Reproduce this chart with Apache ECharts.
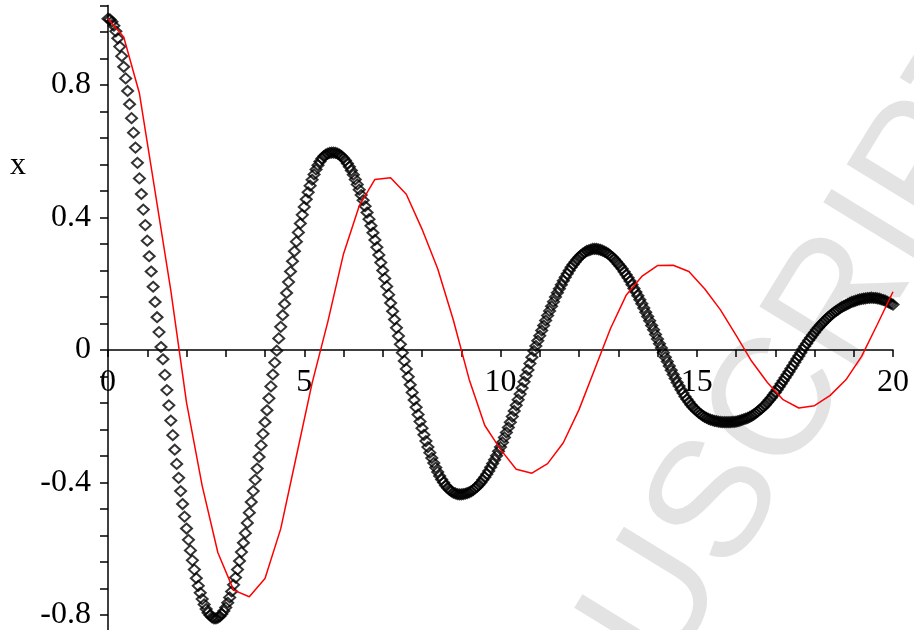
<!DOCTYPE html>
<html>
<head>
<meta charset="utf-8">
<script src="https://cdn.jsdelivr.net/npm/echarts@6/dist/echarts.min.js"></script>
<style>
  html, body { margin: 0; padding: 0; background: #ffffff; }
  #chart { width: 914px; height: 630px; }
</style>
</head>
<body>
<div id="chart"></div>
<script>
// Time grid of the sampled solution (diamonds): t = 0 .. 20, step 0.05
const diamondStart = 0;
const diamondStep = 0.05;
// x(t) sampled values, one row per unit of t (20 samples each), plus t = 20
const diamondValues = [
  1.000,0.998,0.991,0.979,0.962,0.941,0.916,0.887,0.855,0.820,0.782,0.742,0.700,0.656,0.611,0.565,0.518,0.471,0.424,0.377,
  0.330,0.283,0.237,0.191,0.145,0.099,0.054,0.009,-0.028,-0.075,-0.121,-0.167,-0.213,-0.257,-0.301,-0.344,-0.386,-0.426,-0.465,-0.503,
  -0.539,-0.573,-0.605,-0.635,-0.663,-0.689,-0.712,-0.733,-0.752,-0.768,-0.782,-0.793,-0.801,-0.807,-0.810,-0.810,-0.808,-0.804,-0.797,-0.788,
  -0.777,-0.763,-0.747,-0.729,-0.709,-0.687,-0.663,-0.637,-0.610,-0.582,-0.553,-0.522,-0.491,-0.459,-0.426,-0.392,-0.358,-0.323,-0.288,-0.253,
  -0.218,-0.182,-0.146,-0.110,-0.074,-0.038,-0.002,0.035,0.070,0.105,0.139,0.172,0.205,0.237,0.268,0.298,0.327,0.355,0.382,0.408,
  0.432,0.455,0.476,0.496,0.514,0.530,0.545,0.558,0.569,0.578,0.585,0.590,0.593,0.595,0.596,0.596,0.595,0.593,0.590,0.585,
  0.579,0.572,0.563,0.553,0.542,0.529,0.515,0.500,0.484,0.468,0.452,0.434,0.415,0.395,0.375,0.354,0.332,0.310,0.287,0.264,
  0.240,0.216,0.192,0.167,0.142,0.117,0.092,0.067,0.042,0.017,-0.008,-0.033,-0.057,-0.081,-0.105,-0.128,-0.151,-0.173,-0.195,-0.216,
  -0.236,-0.256,-0.275,-0.293,-0.310,-0.326,-0.341,-0.355,-0.368,-0.380,-0.391,-0.400,-0.409,-0.416,-0.422,-0.427,-0.431,-0.433,-0.435,-0.436,
  -0.436,-0.435,-0.434,-0.432,-0.430,-0.427,-0.423,-0.418,-0.413,-0.407,-0.400,-0.392,-0.384,-0.375,-0.365,-0.354,-0.343,-0.331,-0.319,-0.306,
  -0.293,-0.279,-0.264,-0.249,-0.234,-0.218,-0.201,-0.184,-0.167,-0.150,-0.133,-0.115,-0.096,-0.078,-0.060,-0.041,-0.022,-0.003,0.012,0.028,
  0.043,0.059,0.074,0.089,0.104,0.118,0.132,0.146,0.160,0.173,0.185,0.197,0.209,0.220,0.230,0.240,0.250,0.258,0.266,0.273,
  0.280,0.286,0.291,0.295,0.299,0.301,0.303,0.305,0.305,0.305,0.304,0.302,0.300,0.297,0.294,0.290,0.285,0.280,0.274,0.267,
  0.260,0.253,0.245,0.236,0.227,0.218,0.208,0.197,0.186,0.175,0.164,0.152,0.140,0.127,0.114,0.101,0.088,0.074,0.061,0.047,
  0.033,0.019,0.006,-0.008,-0.022,-0.035,-0.048,-0.061,-0.074,-0.086,-0.098,-0.109,-0.120,-0.130,-0.140,-0.149,-0.157,-0.165,-0.172,-0.178,
  -0.184,-0.189,-0.194,-0.198,-0.202,-0.205,-0.208,-0.210,-0.212,-0.214,-0.215,-0.216,-0.217,-0.218,-0.218,-0.218,-0.218,-0.218,-0.217,-0.217,
  -0.216,-0.215,-0.213,-0.211,-0.209,-0.207,-0.205,-0.202,-0.199,-0.195,-0.191,-0.186,-0.181,-0.176,-0.171,-0.165,-0.158,-0.151,-0.144,-0.136,
  -0.128,-0.120,-0.111,-0.102,-0.093,-0.084,-0.075,-0.066,-0.056,-0.047,-0.037,-0.027,-0.018,-0.008,0.002,0.011,0.020,0.029,0.037,0.045,
  0.053,0.061,0.068,0.075,0.081,0.087,0.093,0.099,0.104,0.109,0.114,0.118,0.122,0.126,0.130,0.133,0.136,0.139,0.142,0.145,
  0.147,0.149,0.151,0.153,0.154,0.155,0.156,0.157,0.157,0.158,0.157,0.157,0.156,0.155,0.153,0.151,0.149,0.146,0.143,0.140,
  0.137
];

// Second solution (red curve), vertices every 0.4 in t
const curveStart = 0;
const curveStep = 0.4;
const curveValues = [
  1.000, 0.945, 0.775, 0.478, 0.180, -0.158, -0.410, -0.612, -0.725, -0.745,
  -0.690, -0.540, -0.320, -0.100, 0.085, 0.290, 0.435, 0.515, 0.520, 0.470,
  0.365, 0.245, 0.090, -0.088, -0.228, -0.300, -0.360, -0.372, -0.343, -0.280,
  -0.180, -0.058, 0.064, 0.165, 0.222, 0.255, 0.256, 0.237, 0.185, 0.122,
  0.045, -0.034, -0.098, -0.150, -0.175, -0.168, -0.137, -0.090, -0.019, 0.077,
  0.176
];

// Axis ranges, ticks and labels
const xMin = 0, xMax = 20;
const yMin = -0.88, yMax = 1.04;
const xTickStep = 1;
const xLabelEvery = 5;
const yTickStep = 0.08;
const yLabelEvery = 0.4;
const yAxisName = 'x';
const watermark = 'ACCEPTED MANUSCRIPT';

function toPairs(start, step, values) {
  return values.map((v, i) => [+(start + i * step).toFixed(4), v]);
}

const W = 914, H = 630;
const grid = { left: 108, right: 21, top: 5.5, bottom: -11.5 };
const plotH = H - grid.top - grid.bottom;
// distance from the bottom edge of the plot up to the line y = 0
const zeroOffset = plotH * (0 - yMin) / (yMax - yMin);

const serif = '"Liberation Serif", "Times New Roman", serif';
const chart = echarts.init(document.getElementById('chart'), null, { renderer: 'canvas' });

chart.setOption({
  animation: false,
  backgroundColor: '#ffffff',
  grid: Object.assign({ containLabel: false, outerBoundsMode: 'none' }, grid),
  xAxis: {
    type: 'value',
    position: 'bottom',
    offset: -zeroOffset,
    min: xMin, max: xMax, interval: xTickStep,
    axisLine: { show: true, onZero: false, lineStyle: { color: '#000', width: 1.5 } },
    axisTick: { show: true, inside: false, length: 7, lineStyle: { color: '#000', width: 1.5 } },
    splitLine: { show: false },
    axisLabel: {
      show: true, margin: 17, color: '#000', fontFamily: serif, fontSize: 32,
      showMinLabel: true, showMaxLabel: true, hideOverlap: false,
      formatter: v => (Math.abs(v / xLabelEvery - Math.round(v / xLabelEvery)) < 1e-6 ? String(Math.round(v)) : '')
    }
  },
  yAxis: {
    type: 'value',
    min: yMin, max: yMax, interval: yTickStep,
    axisLine: { show: true, onZero: false, lineStyle: { color: '#000', width: 1.5 } },
    axisTick: { show: true, inside: false, length: 8, lineStyle: { color: '#000', width: 1.5 } },
    splitLine: { show: false },
    axisLabel: {
      show: true, margin: 17, color: '#000', fontFamily: serif, fontSize: 32,
      showMinLabel: true, showMaxLabel: true,
      formatter: v => {
        const k = v / yLabelEvery;
        return Math.abs(k - Math.round(k)) < 1e-6 ? String(Math.round(v * 100) / 100) : '';
      }
    }
  },
  graphic: [
    {
      type: 'text', x: 1010, y: 30, rotation: 1.02, z: -10, silent: true,
      style: { text: watermark, font: '167px "Liberation Sans", Arial, sans-serif', fill: '#e3e3e3', align: 'right', verticalAlign: 'middle' }
    },
    {
      type: 'text', x: 18, y: 166, z: 10, silent: true,
      style: { text: yAxisName, font: '32px ' + serif, fill: '#000', align: 'center', verticalAlign: 'middle' }
    }
  ],
  series: [
    {
      type: 'scatter',
      data: toPairs(diamondStart, diamondStep, diamondValues),
      symbol: 'diamond',
      symbolSize: [11, 10],
      itemStyle: { color: 'rgba(0,0,0,0)', borderColor: '#000', borderWidth: 2 },
      z: 2,
      silent: true
    },
    {
      type: 'line',
      data: toPairs(curveStart, curveStep, curveValues),
      showSymbol: false,
      smooth: false,
      lineStyle: { color: '#ff0000', width: 1.5 },
      z: 3,
      silent: true
    }
  ]
});
</script>
</body>
</html>
